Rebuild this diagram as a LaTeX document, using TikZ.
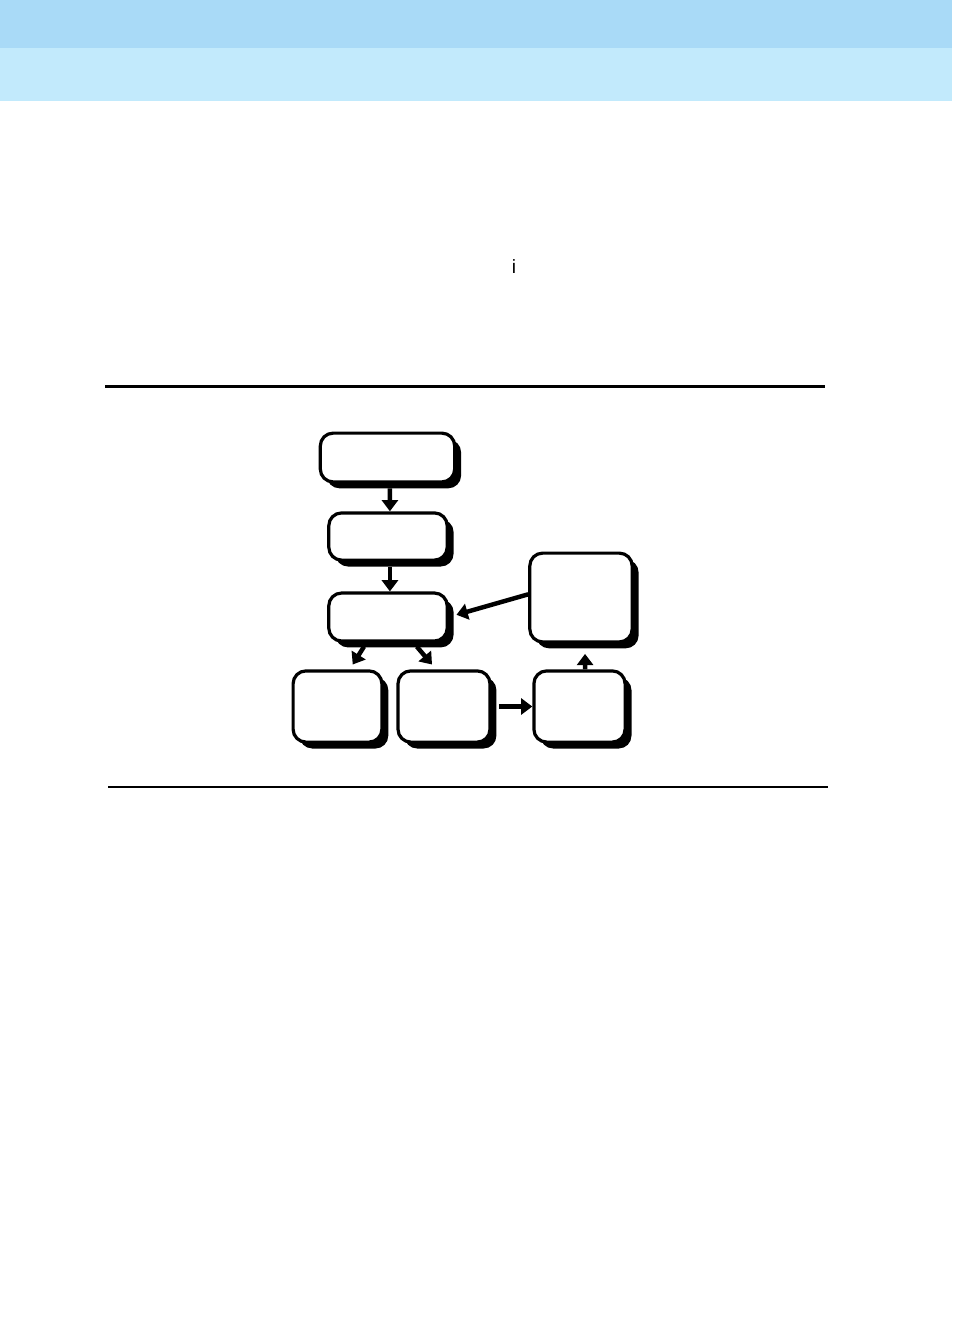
\documentclass[tikz,border=0pt]{standalone}
\usepackage{fontspec}
\setmainfont{Liberation Sans}
\usetikzlibrary{arrows.meta,
    shadows,
    positioning}

\definecolor{bandtop}{HTML}{A9DAF7}
\definecolor{bandlow}{HTML}{C2EAFC}

\tikzset{
  stepbox/.style={draw, line width=2pt, rounded corners=8pt, fill=white,
    inner sep=0pt,
    drop shadow={shadow xshift=4pt, shadow yshift=-4pt,
      fill=black, opacity=1}},
  flow/.style={line width=2.8pt, -{Triangle[length=7pt, width=10pt]}}
}

\begin{document}
\begin{tikzpicture}[x=0.625pt, y=-0.625pt]
                  \useasboundingbox (0,0) rectangle (952,1342);
                  % header bands
                  \fill[bandtop] (0,0) rectangle (952,48);
                  \fill[bandlow] (0,48) rectangle (952,101);
                  \node at (514,267) {\fontsize{12pt}{14pt}\selectfont i};
                  % rules
                  \draw[line width=1.5pt] (105,386.5) -- (825,386.5);
                  \draw[line width=0.8pt] (108,787) -- (828,787);
                  % boxes
                  \node[stepbox, minimum width=84pt, minimum height=30.5pt] (start) at (387.5,457.5) {};
                  \node[stepbox, minimum width=74pt, minimum height=29.5pt] (prep) at (388,536.5) {};
                  \node[stepbox, minimum width=74pt, minimum height=30pt] (core) at (388,617) {};
                  \node[stepbox, minimum width=64pt, minimum height=55.5pt] (back) at (581,597.5) {};
                  \node[stepbox, minimum width=55.5pt, minimum height=44.5pt] (left) at (337.5,706.5) {};
                  \node[stepbox, minimum width=57.5pt, minimum height=44.5pt] (mid) at (444,706.5) {};
                  \node[stepbox, minimum width=57pt, minimum height=44.5pt] (right) at (579.5,706.5) {};
                  % arrows
                  \draw[flow] ([xshift=1.5pt, yshift=-3pt]start.south) -- ([xshift=1.2pt]prep.north);
                  \draw[flow] ([xshift=1.2pt, yshift=-3pt]prep.south) -- ([xshift=1.2pt]core.north);
                  \draw[flow, shorten >=5pt] ([yshift=2pt]back.west) -- (core.east);
                  \draw[flow] ([xshift=-15pt, yshift=-2.5pt]core.south) -- ([xshift=9.5pt, yshift=3pt]left.north);
                  \draw[flow] ([xshift=18pt, yshift=-2.5pt]core.south) -- ([xshift=-7.5pt, yshift=3pt]mid.north);
                  \draw[flow, shorten <=4.5pt] (mid.east) -- (right.west);
                  \draw[flow, shorten >=6.5pt] ([xshift=3.5pt]right.north) -- ([xshift=2.5pt]back.south);
              \end{tikzpicture}
\end{document}
